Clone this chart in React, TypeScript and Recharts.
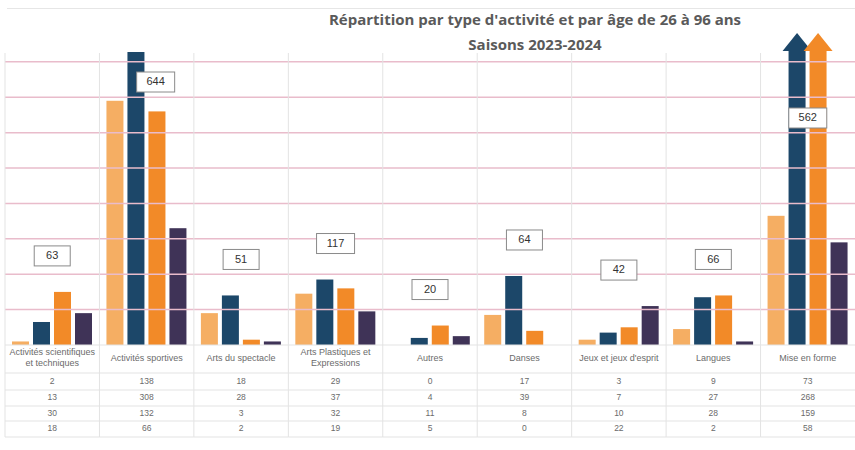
import React from 'react';
import { ComposedChart, Bar, Line, XAxis, YAxis, ReferenceLine, LabelList } from 'recharts';

const categories = [
  'Activités scientifiques et techniques',
  'Activités sportives',
  'Arts du spectacle',
  'Arts Plastiques et Expressions',
  'Autres',
  'Danses',
  "Jeux et jeux d'esprit",
  'Langues',
  'Mise en forme',
];
const series1 = [2, 138, 18, 29, 0, 17, 3, 9, 73];
const series2 = [13, 308, 28, 37, 4, 39, 7, 27, 268];
const series3 = [30, 132, 3, 32, 11, 8, 10, 28, 159];
const series4 = [18, 66, 2, 19, 5, 0, 22, 2, 58];
const totals = [63, 644, 51, 117, 20, 64, 42, 66, 562];
const yTicks = [0, 20, 40, 60, 80, 100, 120, 140, 160];
const Y_MAX = 178;
const CAP = 165;
const arrowCategory = 'Mise en forme';
const arrowSeries = ['s2', 's3'];

const seriesKeys = ['s1', 's2', 's3', 's4'];
const seriesValues = [series1, series2, series3, series4];
const colors = ['#F5AE63', '#1C4769', '#F28A28', '#3F3357'];

const data = categories.map((name, i) => ({
  name,
  s1: series1[i],
  s2: series2[i],
  s3: series3[i],
  s4: series4[i],
  total: totals[i],
  anchor: Math.min(Math.max(series1[i], series2[i], series3[i], series4[i]), Y_MAX),
}));

const W = 855;
const LEFT = 5;
const colW = (W - LEFT) / categories.length;

function wrap(text: string, maxChars = 23): string[] {
  const words = text.split(' ');
  const lines: string[] = [];
  let cur = '';
  for (const w of words) {
    const next = cur ? cur + ' ' + w : w;
    if (next.length > maxChars && cur) {
      lines.push(cur);
      cur = w;
    } else cur = next;
  }
  if (cur) lines.push(cur);
  return lines;
}

const makeShape = (key: string) => (props: any) => {
  const { x, y, width, height, fill, background, payload } = props;
  if (!width || height == null) return <g />;
  const top = background && typeof background.y === 'number' ? background.y : 30;
  const base = y + height;
  if (payload && payload.name === arrowCategory && arrowSeries.includes(key)) {
    const tip = top + 3;
    const headBase = top + 21;
    const cx = x + width / 2;
    const hw = width / 2 + 6;
    return (
      <g>
        <rect x={x} y={headBase} width={width} height={base - headBase} fill={fill} />
        <polygon points={`${cx},${tip} ${cx + hw},${headBase} ${cx - hw},${headBase}`} fill={fill} />
      </g>
    );
  }
  const capY = top + 22;
  const yy = Math.max(y, capY);
  const hh = base - yy;
  if (hh <= 0) return <g />;
  return <rect x={x} y={yy} width={width} height={hh} fill={fill} />;
};

const TableTick = (props: any) => {
  const { x, y, payload } = props;
  const i = categories.indexOf(payload.value);
  const half = colW / 2;
  const lines = wrap(payload.value);
  const lineColor = '#e3e3e3';
  const textColor = '#6b6b6b';
  const rowsY = [37, 52.5, 68.5, 84];
  const hLines = [0, 28, 45, 61, 76, 92];
  return (
    <g>
      <line x1={x - half} x2={x - half} y1={y - 292} y2={y + 92} stroke={lineColor} strokeWidth={1} />
      {hLines.map((d, k) => (
        <line key={k} x1={x - half} x2={x + half} y1={y + d} y2={y + d} stroke={lineColor} strokeWidth={1} />
      ))}
      {lines.map((t, k) => (
        <text
          key={k}
          x={x}
          y={y + (lines.length === 1 ? 13.5 : 8 + k * 11)}
          textAnchor="middle"
          dominantBaseline="middle"
          fontSize={9}
          fontFamily="'Liberation Sans', Arial, sans-serif"
          fill={textColor}
        >
          {t}
        </text>
      ))}
      {seriesValues.map((arr, k) => (
        <text
          key={'v' + k}
          x={x}
          y={y + rowsY[k]}
          textAnchor="middle"
          dominantBaseline="middle"
          fontSize={8.5}
          fontFamily="'Liberation Sans', Arial, sans-serif"
          fill={textColor}
        >
          {arr[i]}
        </text>
      ))}
    </g>
  );
};

const TotalLabel = (props: any) => {
  const { x, y, index, value } = props;
  if (x == null || y == null) return null;
  const d = data[index];
  const peak = Math.max(d.s1, d.s2, d.s3, d.s4);
  let cy = y - 36;
  let cx = x;
  if (d.name === arrowCategory) cy = y + 88;
  else if (peak > CAP) {
    cy = y + 52;
    cx = x + 9;
  }
  const txt = String(value);
  const bw = txt.length > 2 ? 38 : 36;
  const bh = 20;
  return (
    <g>
      <rect x={cx - bw / 2} y={cy - bh / 2} width={bw} height={bh} fill="#ffffff" stroke="#8a8a8a" strokeWidth={1} />
      <text
        x={cx}
        y={cy + 0.5}
        textAnchor="middle"
        dominantBaseline="middle"
        fontSize={11}
        fontFamily="'Liberation Sans', Arial, sans-serif"
        fill="#333333"
      >
        {txt}
      </text>
    </g>
  );
};

export default function App() {
  return (
    <div style={{ position: 'absolute', left: 0, top: 0, width: 855, height: 450, background: '#ffffff' }}>
      <div style={{ position: 'absolute', left: 7, right: 0, top: 8, height: 1, background: '#e6e6e6' }} />
      <ComposedChart
        width={855}
        height={450}
        data={data}
        margin={{ top: 30, right: 0, bottom: 10, left: LEFT }}
        barGap={4}
        barSize={17}
      >
        <YAxis hide domain={[0, Y_MAX]} ticks={yTicks} allowDataOverflow type="number" />
        <XAxis
          dataKey="name"
          height={95}
          interval={0}
          tickLine={false}
          axisLine={false}
          tickSize={0}
          tickMargin={0}
          tick={<TableTick />}
        />
        {yTicks
          .filter((t) => t > 0)
          .map((t) => (
            <ReferenceLine key={'g' + t} y={t} stroke="#e9bccb" strokeWidth={1.5} ifOverflow="visible" />
          ))}
        {seriesKeys.map((k, i) => (
          <Bar key={k} dataKey={k} fill={colors[i]} isAnimationActive={false} shape={makeShape(k)} />
        ))}
        <Line dataKey="anchor" stroke="none" dot={false} activeDot={false} isAnimationActive={false}>
          <LabelList dataKey="total" content={<TotalLabel />} />
        </Line>
      </ComposedChart>
      <div
        style={{
          position: 'absolute',
          left: 285,
          width: 500,
          top: 7,
          textAlign: 'center',
          fontFamily: "'Open Sans', sans-serif",
          fontWeight: 700,
          fontSize: 15,
          lineHeight: '25px',
          color: '#5a5a5a',
          pointerEvents: 'none',
        }}
      >
        <div>Répartition par type d'activité et par âge de 26 à 96 ans</div>
        <div>Saisons 2023-2024</div>
      </div>
    </div>
  );
}
